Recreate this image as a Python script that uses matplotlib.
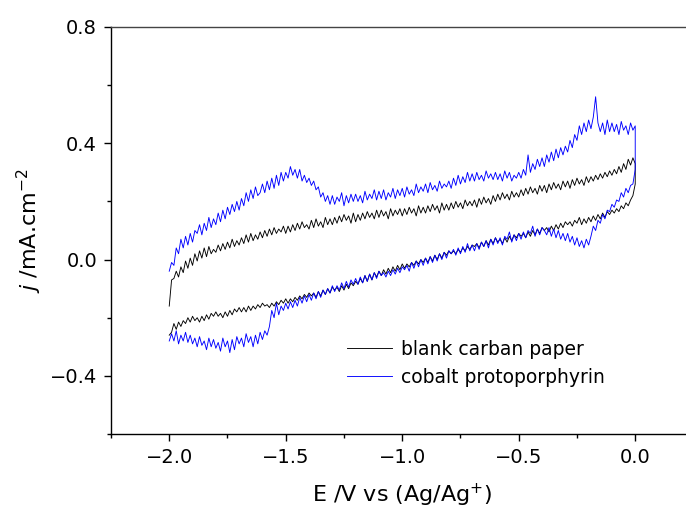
import numpy as np
import matplotlib
matplotlib.use("Agg")
import matplotlib.pyplot as plt
from matplotlib.ticker import MultipleLocator

# potential sweep grid (V vs Ag/Ag+), 0.01 V per point
E_fwd = np.round(np.arange(-2.00, 0.005, 0.01), 2)   # -2.00 -> 0.00
E_rev = E_fwd[::-1]                                   #  0.00 -> -2.00

# blank carbon paper, anodic branch (-2.0 -> 0.0)
blank_up = [
    -0.16, -0.07, -0.065, -0.04, -0.06, -0.025, -0.045, -0.005, -0.03, 0.005,
    -0.02, 0.02, -0.005, 0.03, 0.005, 0.04, 0.01, 0.045, 0.02, 0.035,
    0.025, 0.05, 0.03, 0.055, 0.035, 0.06, 0.04, 0.07, 0.045, 0.065,
    0.05, 0.075, 0.055, 0.085, 0.06, 0.09, 0.065, 0.085, 0.07, 0.095,
    0.075, 0.10, 0.08, 0.105, 0.085, 0.11, 0.09, 0.105, 0.095, 0.115,
    0.09, 0.115, 0.095, 0.12, 0.10, 0.125, 0.105, 0.13, 0.11, 0.12,
    0.105, 0.135, 0.11, 0.14, 0.115, 0.13, 0.11, 0.145, 0.12, 0.14,
    0.12, 0.145, 0.125, 0.15, 0.13, 0.155, 0.135, 0.15, 0.125, 0.16,
    0.13, 0.155, 0.135, 0.16, 0.14, 0.165, 0.145, 0.16, 0.14, 0.17,
    0.145, 0.17, 0.15, 0.165, 0.14, 0.175, 0.15, 0.17, 0.155, 0.175,
    0.15, 0.175, 0.155, 0.18, 0.16, 0.175, 0.15, 0.185, 0.16, 0.18,
    0.16, 0.185, 0.165, 0.19, 0.17, 0.185, 0.16, 0.195, 0.17, 0.19,
    0.17, 0.195, 0.175, 0.20, 0.18, 0.195, 0.175, 0.205, 0.185, 0.20,
    0.185, 0.205, 0.18, 0.21, 0.19, 0.215, 0.195, 0.21, 0.19, 0.22,
    0.20, 0.225, 0.205, 0.23, 0.21, 0.225, 0.205, 0.235, 0.215, 0.23,
    0.215, 0.24, 0.22, 0.245, 0.225, 0.25, 0.23, 0.245, 0.225, 0.255,
    0.235, 0.255, 0.23, 0.26, 0.24, 0.265, 0.245, 0.26, 0.24, 0.27,
    0.25, 0.27, 0.245, 0.275, 0.255, 0.28, 0.26, 0.275, 0.255, 0.285,
    0.265, 0.285, 0.27, 0.29, 0.275, 0.295, 0.28, 0.30, 0.285, 0.305,
    0.29, 0.31, 0.295, 0.32, 0.30, 0.33, 0.31, 0.345, 0.325, 0.35,
    0.33,
]
# blank carbon paper, cathodic branch (0.0 -> -2.0)
blank_down = [
    0.26, 0.22, 0.205, 0.185, 0.195, 0.175, 0.185, 0.165, 0.175, 0.16,
    0.17, 0.155, 0.165, 0.145, 0.16, 0.14, 0.155, 0.135, 0.15, 0.13,
    0.145, 0.125, 0.14, 0.12, 0.145, 0.125, 0.135, 0.115, 0.13, 0.12,
    0.13, 0.11, 0.125, 0.105, 0.12, 0.10, 0.115, 0.095, 0.11, 0.10,
    0.11, 0.09, 0.105, 0.085, 0.10, 0.08, 0.095, 0.075, 0.09, 0.08,
    0.09, 0.075, 0.085, 0.065, 0.08, 0.06, 0.075, 0.055, 0.07, 0.06,
    0.075, 0.055, 0.07, 0.05, 0.065, 0.045, 0.06, 0.04, 0.055, 0.045,
    0.05, 0.035, 0.045, 0.03, 0.04, 0.025, 0.035, 0.02, 0.03, 0.02,
    0.03, 0.015, 0.025, 0.005, 0.02, 0.0, 0.015, -0.005, 0.01, -0.01,
    0.005, -0.01, 0.0, -0.015, -0.005, -0.02, -0.01, -0.025, -0.015, -0.03,
    -0.015, -0.035, -0.02, -0.04, -0.025, -0.045, -0.03, -0.05, -0.035, -0.055,
    -0.04, -0.06, -0.045, -0.07, -0.05, -0.075, -0.055, -0.08, -0.065, -0.085,
    -0.075, -0.09, -0.08, -0.10, -0.085, -0.105, -0.09, -0.11, -0.095, -0.105,
    -0.095, -0.115, -0.10, -0.12, -0.105, -0.125, -0.11, -0.13, -0.115, -0.125,
    -0.115, -0.13, -0.12, -0.135, -0.125, -0.14, -0.13, -0.145, -0.135, -0.15,
    -0.135, -0.15, -0.14, -0.155, -0.145, -0.16, -0.15, -0.165, -0.155, -0.16,
    -0.15, -0.165, -0.155, -0.17, -0.16, -0.175, -0.16, -0.18, -0.165, -0.18,
    -0.165, -0.18, -0.17, -0.19, -0.175, -0.195, -0.18, -0.20, -0.185, -0.195,
    -0.18, -0.195, -0.185, -0.205, -0.19, -0.21, -0.195, -0.215, -0.20, -0.21,
    -0.195, -0.215, -0.20, -0.22, -0.21, -0.23, -0.215, -0.24, -0.22, -0.25,
    -0.26,
]
# cobalt protoporphyrin, anodic branch (-2.0 -> 0.0)
cobalt_up = [
    -0.04, -0.01, -0.02, 0.04, 0.02, 0.07, 0.04, 0.08, 0.05, 0.09,
    0.06, 0.10, 0.09, 0.12, 0.085, 0.125, 0.10, 0.145, 0.11, 0.14,
    0.12, 0.16, 0.13, 0.17, 0.14, 0.18, 0.155, 0.19, 0.165, 0.20,
    0.17, 0.21, 0.185, 0.23, 0.20, 0.24, 0.21, 0.25, 0.22, 0.23,
    0.26, 0.23, 0.27, 0.24, 0.28, 0.245, 0.29, 0.255, 0.30, 0.27,
    0.30, 0.28, 0.32, 0.29, 0.31, 0.28, 0.31, 0.27, 0.29, 0.265,
    0.28, 0.255, 0.27, 0.24, 0.25, 0.215, 0.23, 0.20, 0.22, 0.19,
    0.22, 0.19, 0.215, 0.20, 0.23, 0.185, 0.22, 0.195, 0.225, 0.20,
    0.225, 0.20, 0.22, 0.195, 0.235, 0.205, 0.225, 0.21, 0.24, 0.205,
    0.235, 0.21, 0.24, 0.205, 0.23, 0.215, 0.245, 0.21, 0.24, 0.22,
    0.245, 0.215, 0.25, 0.225, 0.24, 0.22, 0.26, 0.23, 0.25, 0.235,
    0.26, 0.23, 0.265, 0.24, 0.255, 0.235, 0.27, 0.245, 0.26, 0.25,
    0.27, 0.245, 0.28, 0.255, 0.29, 0.26, 0.285, 0.265, 0.30, 0.27,
    0.295, 0.27, 0.30, 0.275, 0.29, 0.27, 0.305, 0.28, 0.295, 0.275,
    0.30, 0.275, 0.295, 0.27, 0.305, 0.28, 0.30, 0.27, 0.29, 0.28,
    0.30, 0.28, 0.31, 0.29, 0.36, 0.30, 0.33, 0.31, 0.345, 0.32,
    0.35, 0.32, 0.36, 0.335, 0.37, 0.34, 0.38, 0.35, 0.385, 0.36,
    0.39, 0.37, 0.41, 0.385, 0.43, 0.41, 0.46, 0.43, 0.47, 0.44,
    0.48, 0.45, 0.49, 0.56, 0.47, 0.44, 0.47, 0.43, 0.48, 0.44,
    0.47, 0.44, 0.465, 0.43, 0.475, 0.445, 0.46, 0.43, 0.47, 0.445,
    0.46,
]
# cobalt protoporphyrin, cathodic branch (0.0 -> -2.0)
cobalt_down = [
    0.31, 0.26, 0.255, 0.23, 0.245, 0.215, 0.23, 0.20, 0.205, 0.18,
    0.19, 0.165, 0.17, 0.14, 0.155, 0.125, 0.135, 0.10, 0.115, 0.08,
    0.05, 0.07, 0.04, 0.065, 0.045, 0.075, 0.05, 0.08, 0.06, 0.09,
    0.065, 0.09, 0.07, 0.10, 0.075, 0.105, 0.08, 0.11, 0.085, 0.10,
    0.11, 0.085, 0.105, 0.08, 0.115, 0.09, 0.10, 0.075, 0.095, 0.07,
    0.09, 0.065, 0.085, 0.06, 0.095, 0.07, 0.08, 0.05, 0.075, 0.055,
    0.075, 0.05, 0.07, 0.04, 0.065, 0.045, 0.06, 0.035, 0.055, 0.03,
    0.05, 0.03, 0.055, 0.025, 0.045, 0.02, 0.04, 0.015, 0.035, 0.02,
    0.03, 0.005, 0.025, 0.0, 0.02, -0.005, 0.015, -0.01, 0.01, -0.015,
    0.005, -0.02, 0.0, -0.025, -0.005, -0.03, -0.01, -0.04, -0.02, -0.035,
    -0.025, -0.045, -0.03, -0.05, -0.035, -0.055, -0.04, -0.06, -0.045, -0.055,
    -0.04, -0.065, -0.045, -0.07, -0.05, -0.075, -0.055, -0.08, -0.06, -0.085,
    -0.065, -0.085, -0.07, -0.095, -0.075, -0.10, -0.08, -0.105, -0.09, -0.11,
    -0.09, -0.115, -0.10, -0.12, -0.105, -0.13, -0.11, -0.135, -0.115, -0.14,
    -0.12, -0.145, -0.125, -0.15, -0.13, -0.16, -0.14, -0.165, -0.145, -0.17,
    -0.15, -0.175, -0.16, -0.19, -0.15, -0.20, -0.175, -0.23, -0.26, -0.245,
    -0.275, -0.25, -0.29, -0.26, -0.30, -0.265, -0.285, -0.255, -0.30, -0.27,
    -0.29, -0.265, -0.31, -0.275, -0.32, -0.28, -0.30, -0.27, -0.315, -0.285,
    -0.305, -0.275, -0.30, -0.27, -0.31, -0.28, -0.295, -0.265, -0.30, -0.27,
    -0.29, -0.26, -0.285, -0.25, -0.28, -0.26, -0.29, -0.245, -0.28, -0.255,
    -0.28,
]

labels = ["blank carban paper", "cobalt protoporphyrin"]
colores = ["#000000", "#0000ff"]

fig = plt.figure(figsize=(6.86, 5.16), dpi=100)
ax = fig.add_axes([0.1618, 0.1589, 0.8491, 0.7888])

# each CV loop: forward sweep then reverse sweep, joined at 0 V
ax.plot(np.concatenate([E_fwd, E_rev]), np.concatenate([blank_up, blank_down]),
        color=colores[0], lw=0.65, label=labels[0])
ax.plot(np.concatenate([E_fwd, E_rev]), np.concatenate([cobalt_up, cobalt_down]),
        color=colores[1], lw=0.65, label=labels[1])

ax.set_xlim(-2.25, 0.25)
ax.set_ylim(-0.6, 0.8)
ax.xaxis.set_major_locator(MultipleLocator(0.5))
ax.xaxis.set_minor_locator(MultipleLocator(0.25))
ax.yaxis.set_major_locator(MultipleLocator(0.4))
ax.yaxis.set_minor_locator(MultipleLocator(0.2))
ax.tick_params(which="both", direction="out", top=False, right=False)
ax.tick_params(which="major", length=5, width=1, labelsize=14, pad=5)
ax.tick_params(which="minor", length=3, width=1)
ax.spines["right"].set_visible(False)
for s in ["left", "bottom", "top"]:
    ax.spines[s].set_linewidth(1.0)
ax.spines["top"].set_color("#444444")

ax.set_xlabel("E /V vs (Ag/Ag$^{+}$)", fontsize=16, labelpad=11)
ax.set_ylabel("$j$ /mA.cm$^{-2}$", fontsize=16, labelpad=4)

ax.legend(loc="upper left", bbox_to_anchor=(0.405, 0.232), frameon=False,
          fontsize=13.5, handlelength=2.4, handletextpad=0.5,
          labelspacing=0.5, borderpad=0, borderaxespad=0)

fig.savefig("out.png", dpi=100)
